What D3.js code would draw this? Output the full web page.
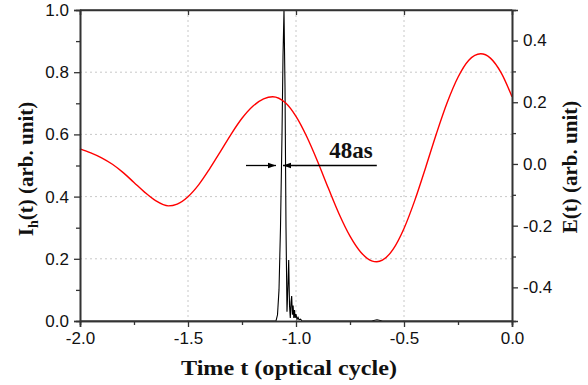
<!DOCTYPE html>
<html>
<head>
<meta charset="utf-8">
<script src="https://cdn.jsdelivr.net/npm/d3@7/dist/d3.min.js"></script>
<style>
  html, body { margin: 0; padding: 0; background: #fff; }
  svg { display: block; }
  .tick text { font-family: "Liberation Sans", Arial, sans-serif; }
</style>
</head>
<body>
<svg id="chart" width="588" height="385"></svg>
<script>
// Driving field E(t), sampled in optical cycles
const fieldT = [-2.0, -1.95, -1.9, -1.85, -1.8, -1.75, -1.7, -1.65, -1.591,
  -1.55, -1.5, -1.45, -1.4, -1.35, -1.3, -1.25, -1.2, -1.15, -1.108,
  -1.05, -1.0, -0.95, -0.9, -0.85, -0.8, -0.75, -0.7, -0.65, -0.626,
  -0.6, -0.55, -0.5, -0.45, -0.4, -0.35, -0.3, -0.25, -0.2, -0.145,
  -0.1, -0.05, 0.0];
const fieldE = [0.049, 0.036, 0.020, -0.001, -0.028, -0.060, -0.092, -0.119, -0.136,
  -0.130, -0.106, -0.067, -0.016, 0.040, 0.097, 0.148, 0.187, 0.211, 0.218,
  0.199, 0.154, 0.088, 0.008, -0.079, -0.163, -0.234, -0.286, -0.314, -0.317,
  -0.312, -0.276, -0.209, -0.118, -0.012, 0.098, 0.199, 0.281, 0.336, 0.357,
  0.343, 0.295, 0.218];

// Attosecond pulse intensity I_h(t)
const pulseT = [-2.0, -1.1204, -1.0926, -1.0856, -1.0787, -1.0718, -1.0648, -1.0602, -1.0556,
  -1.0509, -1.0463, -1.0417, -1.037, -1.0338, -1.030, -1.0264, -1.0231, -1.020, -1.0167,
  -1.0134, -1.0102, -1.007, -1.0037, -1.0, -0.9954, -0.9907, -0.986, -0.979, -0.972,
  -0.65, -0.625, -0.60, 0.0];
const pulseI = [0, 0, 0, 0.02, 0.10, 0.30, 0.60, 0.85, 1.0,
  0.75, 0.30, 0.03, 0.12, 0.196, 0.05, 0.01, 0.06, 0.08, 0.02,
  0.05, 0.01, 0.035, 0.01, 0.022, 0.005, 0.012, 0.004, 0.006, 0,
  0, 0.004, 0, 0];

// Tick values
const xMajor = [-2.0, -1.5, -1.0, -0.5, 0.0];
const xMinor = [-1.75, -1.25, -0.75, -0.25];
const yLMajor = [0.0, 0.2, 0.4, 0.6, 0.8, 1.0];
const yLMinor = [0.1, 0.3, 0.5, 0.7, 0.9];
const yRMajor = [-0.4, -0.2, 0.0, 0.2, 0.4];
const yRMinor = [-0.3, -0.1, 0.1, 0.3];
const gridX = [-1.5, -1.0, -0.5];
const gridY = [0.2, 0.4, 0.6, 0.8];

// FWHM annotation
const fwhmLabel = "48as";
const fwhmLeftT = [-1.2315, -1.0926];
const fwhmRightT = [-1.0602, -0.6259];
const fwhmLevel = 0.5;

const svg = d3.select("#chart");
const L = 80, R = 512, T = 10, B = 321;

const x = d3.scaleLinear().domain([-2, 0]).range([L, R]);
const yL = d3.scaleLinear().domain([0, 1]).range([B, T]);
const yR = d3.scaleLinear().domain([-0.509, 0.499]).range([B, T]);

const fmt = d => d.toFixed(1);
const axisColor = "#333";

// grid
const grid = svg.append("g").attr("stroke", "#c8c8c8").attr("stroke-width", 1)
  .attr("stroke-dasharray", "2,3");
grid.selectAll("line.gx").data(gridX).join("line")
  .attr("x1", d => x(d)).attr("x2", d => x(d)).attr("y1", T).attr("y2", B);
grid.selectAll("line.gy").data(gridY).join("line")
  .attr("y1", d => yL(d)).attr("y2", d => yL(d)).attr("x1", L).attr("x2", R);

// curves
const fieldData = fieldT.map((t, i) => [t, fieldE[i]]);
const pulseData = pulseT.map((t, i) => [t, pulseI[i]]);

svg.append("path").datum(pulseData)
  .attr("fill", "none").attr("stroke", "#000").attr("stroke-width", 1.1)
  .attr("d", d3.line().x(d => x(d[0])).y(d => yL(d[1])));

svg.append("path").datum(fieldData)
  .attr("fill", "none").attr("stroke", "#ff0000").attr("stroke-width", 1.4)
  .attr("d", d3.line().curve(d3.curveMonotoneX).x(d => x(d[0])).y(d => yR(d[1])));

// axes
function styleAxis(g) {
  g.select(".domain").attr("stroke", axisColor).attr("stroke-width", 1.6);
  g.selectAll(".tick line").attr("stroke", axisColor).attr("stroke-width", 1.3);
  g.selectAll(".tick text").attr("fill", "#111").attr("font-size", 17);
}

svg.append("g").attr("transform", `translate(0,${B})`)
  .call(d3.axisBottom(x).tickValues(xMinor).tickSize(4).tickFormat(""))
  .call(styleAxis);
svg.append("g").attr("transform", `translate(0,${B})`)
  .call(d3.axisBottom(x).tickValues(xMajor).tickSize(6).tickPadding(5).tickFormat(fmt))
  .call(styleAxis);

svg.append("g").attr("transform", `translate(0,${T})`)
  .call(d3.axisBottom(x).tickValues(gridX).tickSize(5).tickFormat(""))
  .call(styleAxis);

svg.append("g").attr("transform", `translate(${L},0)`)
  .call(d3.axisLeft(yL).tickValues(yLMinor).tickSize(4).tickFormat(""))
  .call(styleAxis);
svg.append("g").attr("transform", `translate(${L},0)`)
  .call(d3.axisLeft(yL).tickValues(yLMajor).tickSize(6).tickPadding(5).tickFormat(fmt))
  .call(styleAxis);

svg.append("g").attr("transform", `translate(${R},0)`)
  .call(d3.axisRight(yR).tickValues(yRMinor).tickSize(4).tickFormat(""))
  .call(styleAxis);
svg.append("g").attr("transform", `translate(${R},0)`)
  .call(d3.axisRight(yR).tickValues(yRMajor).tickSize(6).tickPadding(5).tickFormat(fmt))
  .call(styleAxis);

// top frame line
svg.append("line").attr("x1", L).attr("x2", R).attr("y1", T).attr("y2", T)
  .attr("stroke", axisColor).attr("stroke-width", 1.6);

// titles
const serif = '"Liberation Serif", "Times New Roman", serif';
svg.append("text").attr("x", 289).attr("y", 375).attr("text-anchor", "middle")
  .attr("font-family", serif).attr("font-weight", "bold").attr("font-size", 22)
  .attr("textLength", 216).attr("lengthAdjust", "spacingAndGlyphs")
  .attr("fill", "#111").text("Time t (optical cycle)");

const lt = svg.append("text").attr("transform", "translate(33,169) rotate(-90)")
  .attr("text-anchor", "middle").attr("font-family", serif).attr("font-weight", "bold")
  .attr("font-size", 21).attr("fill", "#111");
lt.append("tspan").text("I");
lt.append("tspan").attr("dy", 5).attr("font-size", 14).text("h");
lt.append("tspan").attr("dy", -5).text("(t) (arb. unit)");

svg.append("text").attr("transform", "translate(577,167) rotate(-90)")
  .attr("text-anchor", "middle").attr("font-family", serif).attr("font-weight", "bold")
  .attr("font-size", 21).attr("fill", "#111").text("E(t) (arb. unit)");

// FWHM arrows
svg.append("defs").append("marker").attr("id", "arr")
  .attr("viewBox", "0 0 10 10").attr("refX", 10).attr("refY", 5)
  .attr("markerWidth", 8).attr("markerHeight", 8).attr("markerUnits", "userSpaceOnUse")
  .attr("orient", "auto")
  .append("path").attr("d", "M0,1.5 L10,5 L0,8.5 Z").attr("fill", "#000");

const ay = yL(fwhmLevel);
svg.append("line").attr("x1", x(fwhmLeftT[0])).attr("x2", x(fwhmLeftT[1]))
  .attr("y1", ay).attr("y2", ay).attr("stroke", "#000").attr("stroke-width", 1.3)
  .attr("marker-end", "url(#arr)");
svg.append("line").attr("x1", x(fwhmRightT[1])).attr("x2", x(fwhmRightT[0]))
  .attr("y1", ay).attr("y2", ay).attr("stroke", "#000").attr("stroke-width", 1.3)
  .attr("marker-end", "url(#arr)");

svg.append("text").attr("x", 351).attr("y", 158).attr("text-anchor", "middle")
  .attr("font-family", serif).attr("font-weight", "bold").attr("font-size", 23)
  .attr("fill", "#111").text(fwhmLabel);
</script>
</body>
</html>
